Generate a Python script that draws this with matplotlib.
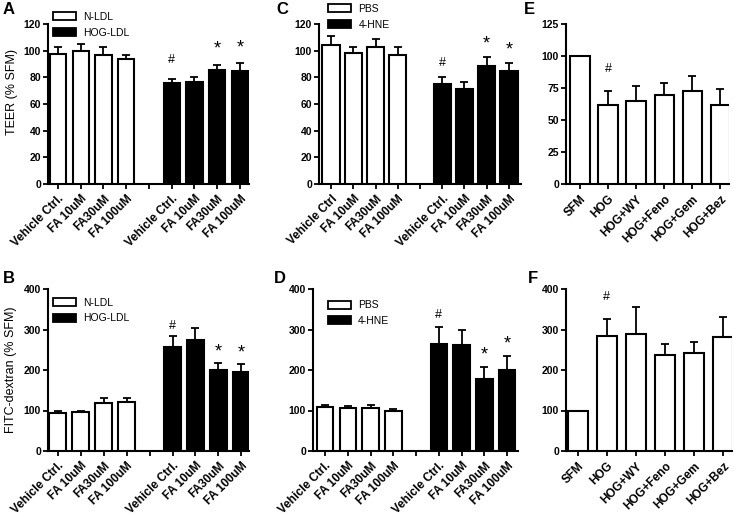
import numpy as np
import matplotlib
matplotlib.use('Agg')
import matplotlib.pyplot as plt

plt.rcParams['font.family'] = ['Liberation Sans', 'DejaVu Sans']

# ---- data ----
fa_labels = ['Vehicle Ctrl.', 'FA 10uM', 'FA30uM', 'FA 100uM']
fa_labels_c = ['Vehicle Ctrl', 'FA 10uM', 'FA30uM', 'FA 100uM']
hog_labels = ['SFM', 'HOG', 'HOG+WY', 'HOG+Feno', 'HOG+Gem', 'HOG+Bez']
group_marks = ['#', '', '*', '*']
hog_marks = ['', '#', '', '', '', '']

# A: TEER, N-LDL vs HOG-LDL
a_nldl = [97.5, 99.5, 96.5, 93.5]
a_nldl_err = [5, 5.5, 6, 3.5]
a_hog = [76, 76.5, 85.5, 85]
a_hog_err = [2.8, 3.5, 4, 5.5]

# B: FITC-dextran, N-LDL vs HOG-LDL
b_nldl = [94, 96, 119, 122]
b_nldl_err = [6, 3.5, 13, 10]
b_hog = [256, 273, 200, 195]
b_hog_err = [27, 31, 17, 19]

# C: TEER, PBS vs 4-HNE
c_pbs = [104.5, 98, 102.5, 96.5]
c_pbs_err = [6.5, 5, 6, 6]
c_hne = [75, 71, 88.5, 85]
c_hne_err = [5.5, 5.5, 7, 5.5]

# D: FITC-dextran, PBS vs 4-HNE
d_pbs = [109, 107, 106, 99]
d_pbs_err = [3.5, 3.5, 8, 5]
d_hne = [264, 262, 177, 201]
d_hne_err = [42, 36, 31, 34]

# E / F: PPAR agonists
e_vals = [100, 61.5, 65, 69.5, 73, 61.5]
e_err = [0, 11.5, 11.5, 9.5, 11.5, 13]
f_vals = [100, 284, 288, 238, 243, 281]
f_err = [0, 41, 67, 26, 26, 50]

W, H = 740, 517
fig = plt.figure(figsize=(W / 100, H / 100), dpi=100)


def px_axes(x0, y0, x1, y1):
    # pixel box (top-left origin) -> figure axes
    return fig.add_axes([x0 / W, 1 - y1 / H, (x1 - x0) / W, (y1 - y0) / H])


def style(ax, ymax, ystep, xlim):
    for s in ['top', 'right']:
        ax.spines[s].set_visible(False)
    for s in ['left', 'bottom']:
        ax.spines[s].set_linewidth(1.5)
    ax.set_ylim(0, ymax)
    ax.set_xlim(*xlim)
    ax.set_yticks(np.arange(0, ymax + 1, ystep))
    ax.tick_params(width=1.3, length=3.5, direction='out', pad=1.5)
    ax.tick_params(axis='y', labelsize=7.5)
    ax.tick_params(axis='x', labelsize=8.5, pad=3)
    for t in ax.get_yticklabels():
        t.set_fontweight('bold')


def bars(ax, x, vals, err, color, width, marks, pad):
    ax.bar(x, vals, width=width, color=color, edgecolor='black', linewidth=1.5, zorder=3)
    err = np.array(err, dtype=float)
    vals = np.array(vals, dtype=float)
    keep = err > 0
    ax.errorbar(np.array(x)[keep], vals[keep], yerr=[np.zeros(keep.sum()), err[keep]],
                fmt='none', ecolor='black', elinewidth=1.3, capsize=3.2, capthick=1.3, zorder=2)
    for xi, v, e, m in zip(x, vals, err, marks):
        if m == '*':
            ax.text(xi, v + e + pad * 0.55, m, ha='center', va='bottom', fontsize=13)
        elif m:
            ax.text(xi, v + e + pad, m, ha='center', va='bottom', fontsize=9)


def grouped(ax, left, left_err, right, right_err, labels1, labels2, names,
            ymax, ystep, xlim, width, pad, leg_anchor):
    x1 = np.arange(4)
    x2 = np.arange(5, 9)
    bars(ax, x1, left, left_err, 'white', width, [''] * 4, pad)
    bars(ax, x2, right, right_err, 'black', width, group_marks, pad)
    style(ax, ymax, ystep, xlim)
    ax.set_xticks(np.arange(9))
    ax.set_xticklabels(labels1 + [''] + labels2, rotation=45, ha='right',
                       rotation_mode='anchor', fontweight='bold')
    h1 = plt.Rectangle((0, 0), 1, 1, facecolor='white', edgecolor='black', linewidth=1.3)
    h2 = plt.Rectangle((0, 0), 1, 1, facecolor='black', edgecolor='black', linewidth=1.3)
    ax.legend([h1, h2], names, loc='upper left', bbox_to_anchor=leg_anchor, frameon=False,
              fontsize=7.5, handlelength=2.2, handleheight=0.8, handletextpad=0.7,
              labelspacing=0.55, borderpad=0, borderaxespad=0)


def simple(ax, vals, err, ymax, ystep, xlim, pad):
    x = np.arange(len(vals))
    bars(ax, x, vals, err, 'white', 0.68, hog_marks, pad)
    style(ax, ymax, ystep, xlim)
    ax.set_xticks(x)
    ax.set_xticklabels(hog_labels, rotation=45, ha='right', rotation_mode='anchor',
                       fontweight='bold')


axA = px_axes(48, 24, 249, 184)
grouped(axA, a_nldl, a_nldl_err, a_hog, a_hog_err, fa_labels, fa_labels,
        ['N-LDL', 'HOG-LDL'], 120, 20, (-0.44, 8.4), 0.72, 10, (0.025, 1.075))
axA.set_ylabel('TEER (% SFM)', fontsize=9)
axA.yaxis.set_label_coords(-0.15, 0.575)

axB = px_axes(48, 289, 249, 451)
grouped(axB, b_nldl, b_nldl_err, b_hog, b_hog_err, fa_labels, fa_labels,
        ['N-LDL', 'HOG-LDL'], 400, 100, (-0.42, 8.33), 0.72, 12, (0.025, 0.947))
axB.set_ylabel('FITC-dextran (% SFM)', fontsize=9)
axB.yaxis.set_label_coords(-0.155, 0.5)

axC = px_axes(319, 24, 521, 184)
grouped(axC, c_pbs, c_pbs_err, c_hne, c_hne_err, fa_labels_c, fa_labels,
        ['PBS', '4-HNE'], 120, 20, (-0.54, 8.54), 0.78, 6, (0.045, 1.125))

axD = px_axes(313, 289, 518, 451)
grouped(axD, d_pbs, d_pbs_err, d_hne, d_hne_err, fa_labels, fa_labels,
        ['PBS', '4-HNE'], 400, 100, (-0.53, 8.48), 0.72, 14, (0.073, 0.93))

axE = px_axes(566, 24, 729, 184)
simple(axE, e_vals, e_err, 125, 25, (-0.5, 5.32), 12)

axF = px_axes(566, 289, 732, 451)
simple(axF, f_vals, f_err, 400, 100, (-0.41, 5.31), 40)

# panel letters
for lbl, (px, py) in zip('ABCDEF', [(3, 2), (3, 271), (276, 2), (274, 271), (524, 2), (528, 271)]):
    fig.text(px / W, 1 - py / H, lbl, fontsize=12, fontweight='bold', ha='left', va='top')

fig.savefig('out.png', dpi=100)
